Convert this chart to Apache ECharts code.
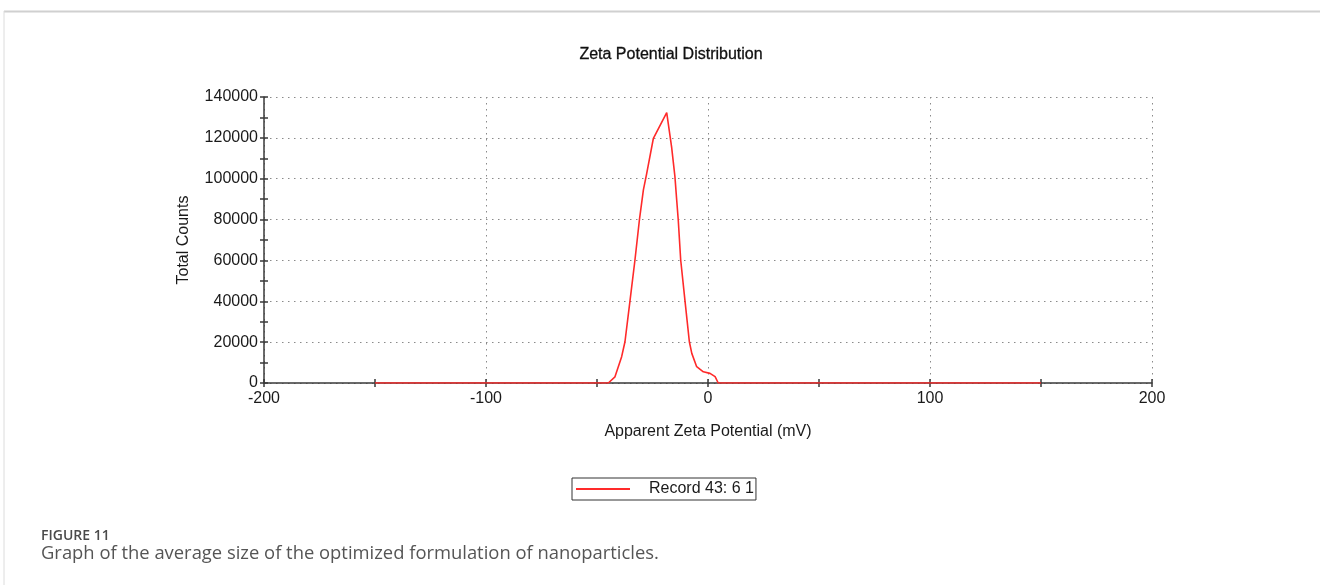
<!DOCTYPE html>
<html>
<head>
<meta charset="utf-8">
<script src="https://cdn.jsdelivr.net/npm/echarts@6/dist/echarts.min.js"></script>
<style>
html,body{margin:0;padding:0;background:#fff;}
#chart{width:1320px;height:585px;}
</style>
</head>
<body>
<div id="chart"></div>
<script>
// ---- data ----
var seriesName = 'Record 43: 6 1';
var zetaMV = [-150, -44.9, -41.9, -38.9, -37.4, -35.1, -32.9, -30.9, -29.1, -27.6, -24.6, -18.6, -16.4, -14.9, -14.1, -13.4, -12.3, -10.4, -8.4, -7.3, -5.1, -2.1, 0.9, 3.2, 4.6, 150];
var totalCounts = [0, 0, 3000, 12900, 20200, 40600, 60200, 79800, 94500, 102600, 119800, 132300, 115600, 101000, 89600, 79800, 60200, 40600, 20200, 14500, 8000, 5500, 4700, 3100, 0, 0];
var xTicks = [-200, -100, 0, 100, 200];
var yTicks = [0, 20000, 40000, 60000, 80000, 100000, 120000, 140000];
var titleText = 'Zeta Potential Distribution';
var xName = 'Apparent Zeta Potential (mV)';
var yName = 'Total Counts';
var figLabel = 'FIGURE 11';
var figCaption = 'Graph of the average size of the optimized formulation of nanoparticles.';

var points = zetaMV.map(function (x, i) { return [x, totalCounts[i]]; });

var axisColor = '#3a3a3a';
var gridDot = { color: '#8a8a8a', width: 1, type: [1.5, 4.5] };
var font = 'Liberation Sans, Arial, sans-serif';
var plain = function (v) { return String(v); };

var chart = echarts.init(document.getElementById('chart'), null, { renderer: 'canvas' });
chart.setOption({
  animation: false,
  backgroundColor: '#ffffff',
  title: {
    text: titleText,
    left: 666, top: 42, textAlign: 'center',
    textStyle: { fontFamily: font, fontSize: 16, fontWeight: 'normal', color: '#111111', textBorderColor: '#111111', textBorderWidth: 0.3 }
  },
  legend: {
    left: 572, top: 478,
    borderColor: '#333', borderWidth: 1, borderRadius: 0,
    padding: [3, 2, 3, 4],
    itemWidth: 54, itemHeight: 2, itemGap: 0,
    icon: 'rect',
    textStyle: { fontFamily: font, fontSize: 16, color: '#1a1a1a', padding: [0, 0, 0, 14] },
    data: [{ name: seriesName, itemStyle: { color: '#ff2a2a' } }]
  },
  grid: { left: 264, right: 168, top: 97, bottom: 202, containLabel: false },
  xAxis: [{
    type: 'value', min: xTicks[0], max: xTicks[xTicks.length - 1], interval: 100,
    name: xName, nameLocation: 'middle', nameGap: 41,
    nameTextStyle: { fontFamily: font, fontSize: 16, color: '#1a1a1a' },
    axisLine: { show: true, onZero: false, lineStyle: { color: axisColor, width: 1.5 } },
    axisTick: { show: true, length: 4, lineStyle: { color: axisColor, width: 1.5 } },
    minorTick: { show: true, splitNumber: 2, length: 4, lineStyle: { color: axisColor, width: 1.5 } },
    axisLabel: { fontFamily: font, fontSize: 16, color: '#1a1a1a', margin: 8, formatter: plain },
    splitLine: { show: true, lineStyle: gridDot }
  }, {
    type: 'value', min: xTicks[0], max: xTicks[xTicks.length - 1], interval: 100, position: 'bottom',
    axisLine: { show: false, onZero: false },
    axisTick: { show: true, inside: true, length: 4, lineStyle: { color: axisColor, width: 1.5 } },
    minorTick: { show: true, splitNumber: 2, length: 4, lineStyle: { color: axisColor, width: 1.5 } },
    axisLabel: { show: false }, splitLine: { show: false }
  }],
  yAxis: [{
    type: 'value', min: yTicks[0], max: yTicks[yTicks.length - 1], interval: 20000,
    name: yName, nameLocation: 'middle', nameGap: 72, nameRotate: 90,
    nameTextStyle: { fontFamily: font, fontSize: 16, color: '#1a1a1a' },
    axisLine: { show: true, onZero: false, lineStyle: { color: axisColor, width: 1.5 } },
    axisTick: { show: true, length: 4, lineStyle: { color: axisColor, width: 1.5 } },
    minorTick: { show: true, splitNumber: 2, length: 4, lineStyle: { color: axisColor, width: 1.5 } },
    axisLabel: { fontFamily: font, fontSize: 16, color: '#1a1a1a', margin: 6, formatter: plain },
    splitLine: { show: true, lineStyle: gridDot }
  }, {
    type: 'value', min: yTicks[0], max: yTicks[yTicks.length - 1], interval: 20000, position: 'left',
    axisLine: { show: false, onZero: false },
    axisTick: { show: true, inside: true, length: 4, lineStyle: { color: axisColor, width: 1.5 } },
    minorTick: { show: true, splitNumber: 2, length: 4, lineStyle: { color: axisColor, width: 1.5 } },
    axisLabel: { show: false }, splitLine: { show: false }
  }],
  series: [{
    name: seriesName, type: 'line', data: points,
    xAxisIndex: 0, yAxisIndex: 0,
    showSymbol: false, symbol: 'none',
    lineStyle: { color: '#ff2a2a', width: 1.6 },
    itemStyle: { color: '#ff2a2a' },
    z: 5
  }],
  graphic: [
    { type: 'line', shape: { x1: 4, y1: 11.5, x2: 1320, y2: 11.5 }, style: { stroke: '#d0d0d0', lineWidth: 2 } },
    { type: 'line', shape: { x1: 4, y1: 11, x2: 4, y2: 585 }, style: { stroke: '#dcdcdc', lineWidth: 1 } },
    { type: 'text', left: 41, top: 529, style: { text: figLabel, font: '600 14px "Open Sans", sans-serif', fill: '#4a4a4a' } },
    { type: 'text', left: 41, top: 545, style: { text: figCaption, font: '18.4px "Open Sans", sans-serif', fill: '#555555' } }
  ]
});
</script>
</body>
</html>
